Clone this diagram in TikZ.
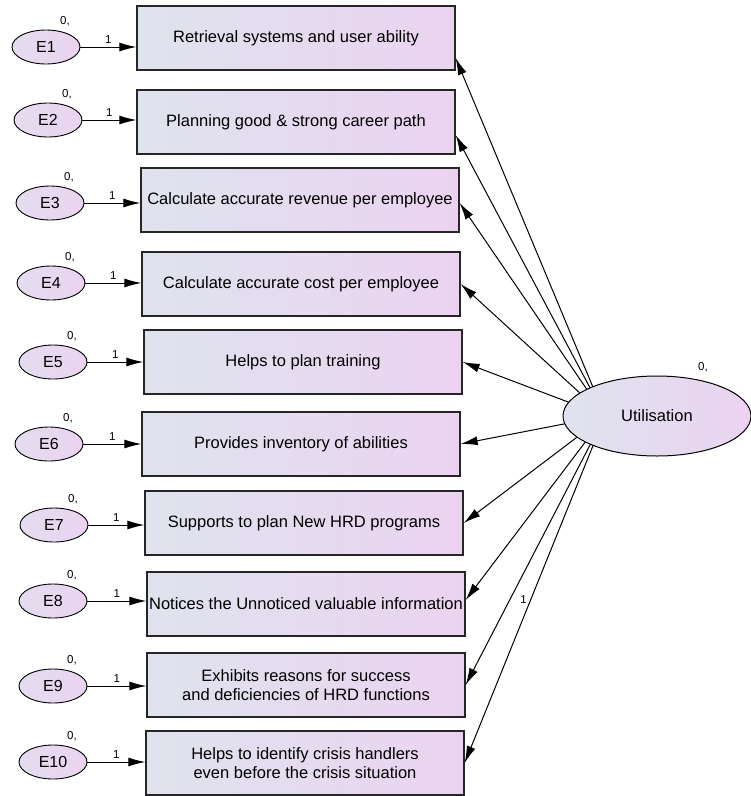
\documentclass[tikz,border=0pt]{standalone}
\usepackage{fontspec}
\setmainfont{Liberation Sans}
\usetikzlibrary{arrows.meta, shapes.geometric}
\definecolor{paleblue}{HTML}{DFE3EE}
\definecolor{palepink}{HTML}{EBD3F0}

\begin{document}
\begin{tikzpicture}[x=1pt, y=-1pt, >={Latex[length=17pt,width=9pt]}, line width=1pt,
    item/.style={rectangle, draw=black!85, line width=1.3pt, minimum width=318pt, minimum height=64pt,
      inner sep=2pt, left color=paleblue, right color=palepink, align=center,
      font=\fontsize{16.5}{19}\selectfont},
    err/.style={ellipse, draw, line width=0.9pt, minimum width=68pt, minimum height=34pt, inner sep=0pt,
      left color=paleblue!60!palepink, right color=palepink, font=\fontsize{16}{18}\selectfont,
      label={[xshift=19pt, label distance=0pt, font=\fontsize{11.5}{12}\selectfont]above:{0,}}},
    one/.style={above, font=\fontsize{11.5}{12}\selectfont}]
    \useasboundingbox (0,0) rectangle (751,796);

    \node[item] (retrieval) at (296,38)  {Retrieval systems and user ability};
    \node[item] (career)    at (296,122) {Planning good \& strong career path};
    \node[item] (revenue)   at (300,200) {Calculate accurate revenue per employee};
    \node[item] (cost)      at (301,284) {Calculate accurate cost per employee};
    \node[item] (training)  at (303,362) {Helps to plan training};
    \node[item] (inventory) at (301,444) {Provides inventory of abilities};
    \node[item] (programs)  at (304,523) {Supports to plan New HRD programs};
    \node[item] (noticed)   at (306,604) {Notices the Unnoticed valuable information};
    \node[item] (reasons)   at (306,685) {Exhibits reasons for success\\and deficiencies of HRD functions};
    \node[item] (crisis)    at (305,763) {Helps to identify crisis handlers\\even before the crisis situation};

    \node[err] (e1)  at (46,47)  {E1};
    \node[err] (e2)  at (48,120) {E2};
    \node[err] (e3)  at (50,203) {E3};
    \node[err] (e4)  at (51,283) {E4};
    \node[err] (e5)  at (53,362) {E5};
    \node[err] (e6)  at (49,444) {E6};
    \node[err] (e7)  at (54,525) {E7};
    \node[err] (e8)  at (53,601) {E8};
    \node[err] (e9)  at (53,686) {E9};
    \node[err] (e10) at (53,762) {E10};

    \path (e1) edge[->] node[one] {1} (e1 -| retrieval.west)
          (e2) edge[->] node[one] {1} (e2 -| career.west)
          (e3) edge[->] node[one] {1} (e3 -| revenue.west)
          (e4) edge[->] node[one] {1} (e4 -| cost.west)
          (e5) edge[->] node[one] {1} (e5 -| training.west)
          (e6) edge[->] node[one] {1} (e6 -| inventory.west)
          (e7) edge[->] node[one] {1} (e7 -| programs.west)
          (e8) edge[->] node[one] {1} (e8 -| noticed.west)
          (e9) edge[->] node[one] {1} (e9 -| reasons.west)
          (e10) edge[->] node[one] {1} (e10 -| crisis.west);

    % loadings fan out from behind the latent ellipse
    \coordinate (hub) at (605,416);
    \path (hub) edge[->] ([yshift=-20pt]retrieval.east)
          (hub) edge[->] ([yshift=-13pt]career.east)
          (hub) edge[->] ([yshift=-3pt]revenue.east)
          (hub) edge[->] (cost.east)
          (hub) edge[->] (training.east)
          (hub) edge[->] (inventory.east)
          (hub) edge[->] (programs.east)
          (hub) edge[->] ([yshift=4pt]noticed.east)
          (hub) edge[->] (reasons.east)
          (hub) edge[->] node[pos=.53, left, font=\fontsize{11.5}{12}\selectfont] {1} (crisis.east);

    \node[ellipse, draw, line width=1pt, minimum width=188pt, minimum height=80pt, inner sep=0pt,
      left color=paleblue, right color=palepink, font=\fontsize{16.5}{19}\selectfont,
      label={[xshift=46pt, label distance=0pt, font=\fontsize{11.5}{12}\selectfont]above:{0,}}]
      (util) at (657,416) {Utilisation};
\end{tikzpicture}
\end{document}
